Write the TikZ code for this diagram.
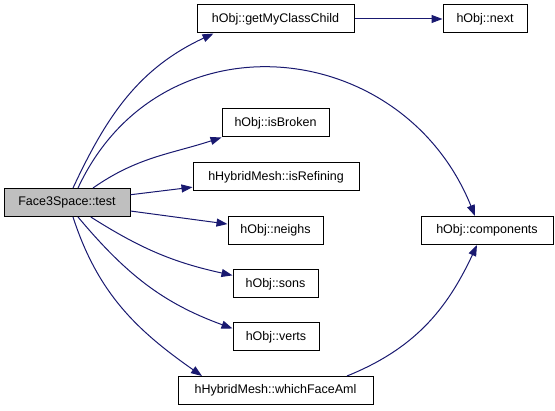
\documentclass[tikz,border=0pt]{standalone}
\usepackage{fontspec}
\setmainfont{Liberation Sans}
\usetikzlibrary{arrows.meta}
\definecolor{callblue}{HTML}{191970}
\definecolor{rootgray}{HTML}{BFBFBF}

\begin{document}
\begin{tikzpicture}[x=1pt, y=1pt,
    every node/.style={draw, rectangle, line width=1pt, minimum height=28pt,
        inner sep=0pt, font=\fontsize{12.5}{14}\selectfont},
    root/.style={fill=rootgray},
    call/.style={draw=callblue, line width=1pt,
        -{Triangle[length=11pt, width=8pt, fill=callblue]}}]
    \useasboundingbox (0,0) rectangle (555,411);
    \node[root, minimum width=126pt] (test) at (67,208.5) {Face3Space::test};
    \node[minimum width=157pt] (getchild) at (275.5,392) {hObj::getMyClassChild};
    \node[minimum width=84pt] (next) at (485,392) {hObj::next};
    \node[minimum width=107pt] (isbroken) at (275.5,288) {hObj::isBroken};
    \node[minimum width=166pt] (isrefining) at (276,234) {hHybridMesh::isRefining};
    \node[minimum width=95pt] (neighs) at (275.5,180.5) {hObj::neighs};
    \node[minimum width=85pt] (sons) at (275.5,127) {hObj::sons};
    \node[minimum width=86pt] (verts) at (276,74) {hObj::verts};
    \node[minimum width=195pt] (whichface) at (275.5,20.5) {hHybridMesh::whichFaceAml};
    \node[minimum width=132pt] (components) at (487,180.5) {hObj::components};

    % calls
    \draw[call] ([xshift=6pt]test.north) to[out=65, in=205] ([xshift=-62pt]getchild.south);
    \draw[call] ([xshift=11pt]test.north) to[out=65, in=112, looseness=1.25] ([xshift=-12pt]components.north);
    \draw[call] ([xshift=26pt]test.north) to[out=35, in=198] (isbroken.south west);
    \draw[call] (test) -- (isrefining);
    \draw[call] (test) -- (neighs);
    \draw[call] (test) to[bend right=10] (sons);
    \draw[call] ([xshift=11pt]test.south) to[out=-50, in=160] ([yshift=-6pt]verts.north west);
    \draw[call] ([xshift=6pt]test.south) to[out=-72, in=145] ([xshift=-73.5pt]whichface.north);
    \draw[call] (getchild) -- (next);
    \draw[call] ([xshift=71.5pt]whichface.north) to[out=22, in=-115] ([xshift=-10pt]components.south);
\end{tikzpicture}
\end{document}
